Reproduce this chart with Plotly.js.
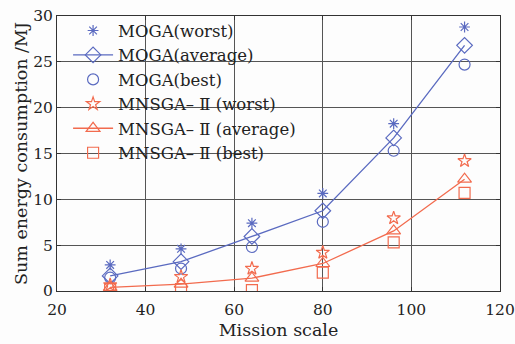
<!DOCTYPE html>
<html><head><meta charset="utf-8">
<script src="https://cdn.plot.ly/plotly-3.0.1.min.js"></script>
<style>html,body{margin:0;padding:0;background:#fff}</style>
</head><body><div id="c" style="width:515px;height:344px"></div>
<script>
const scale = [32, 48, 64, 80, 96, 112];
const mogaWorst = [2.85, 4.6, 7.4, 10.65, 18.25, 28.8];
const mogaAvg = [1.65, 3.2, 5.95, 8.75, 16.7, 26.8];
const mogaBest = [1.45, 2.45, 4.8, 7.55, 15.3, 24.7];
const mnWorst = [0.65, 1.55, 2.45, 4.2, 7.95, 14.2];
const mnAvg = [0.4, 0.75, 1.4, 3.0, 6.55, 12.2];
const mnBest = [0.2, 0.2, 0.1, 2.0, 5.3, 10.7];
const names = ['MOGA(worst)', 'MOGA(average)', 'MOGA(best)', 'MNSGA– Ⅱ (worst)', 'MNSGA– Ⅱ (average)', 'MNSGA– Ⅱ (best)'];
const blue = '#5a6ac0', red = '#f26b4e';
const F = 'DejaVu Serif, serif';
function tr(y, name, sym, col, line, size) {
  return {x: scale, y: y, name: name, mode: line ? 'lines+markers' : 'markers', type: 'scatter',
    line: {color: col, width: 1.3},
    marker: {symbol: sym, size: size || 11, color: col, line: {color: col, width: 1.2}}};
}
const data = [
  tr(mogaWorst, names[0], 'asterisk-open', blue, false, 9),
  tr(mogaAvg, names[1], 'diamond-open', blue, true, 12),
  tr(mogaBest, names[2], 'circle-open', blue, false, 11),
  tr(mnWorst, names[3], 'star-open', red, false, 10),
  tr(mnAvg, names[4], 'triangle-up-open', red, true, 12),
  tr(mnBest, names[5], 'square-open', red, false, 11)
];
const ax = {showline: true, mirror: 'ticks', linecolor: '#333', linewidth: 1, ticks: 'inside', ticklen: 4,
  tickcolor: '#333', showgrid: true, gridcolor: '#555', gridwidth: 1, zeroline: false,
  tickfont: {family: F, size: 15.5, color: '#222'}};
const layout = {
  width: 515, height: 344, margin: {l: 57, r: 15, t: 16, b: 53},
  paper_bgcolor: '#fdfdfd', plot_bgcolor: '#fdfdfd',
  showlegend: true,
  legend: {x: 0.025, y: 1.01, xanchor: 'left', yanchor: 'top', bgcolor: 'rgba(0,0,0,0)',
    font: {family: F, size: 16.5, color: '#222'}, tracegroupgap: 0, itemwidth: 40},
  xaxis: Object.assign({}, ax, {range: [20, 120], dtick: 20, ticklabelstandoff: 4,
    title: {text: 'Mission scale', font: {family: F, size: 17.5, color: '#222'}, standoff: 6}}),
  yaxis: Object.assign({}, ax, {range: [0, 30], dtick: 5,
    title: {text: 'Sum energy consumption /MJ', font: {family: F, size: 17.5, color: '#222'}, standoff: 1}})
};
Plotly.newPlot('c', data, layout, {staticPlot: true});
</script></body></html>
